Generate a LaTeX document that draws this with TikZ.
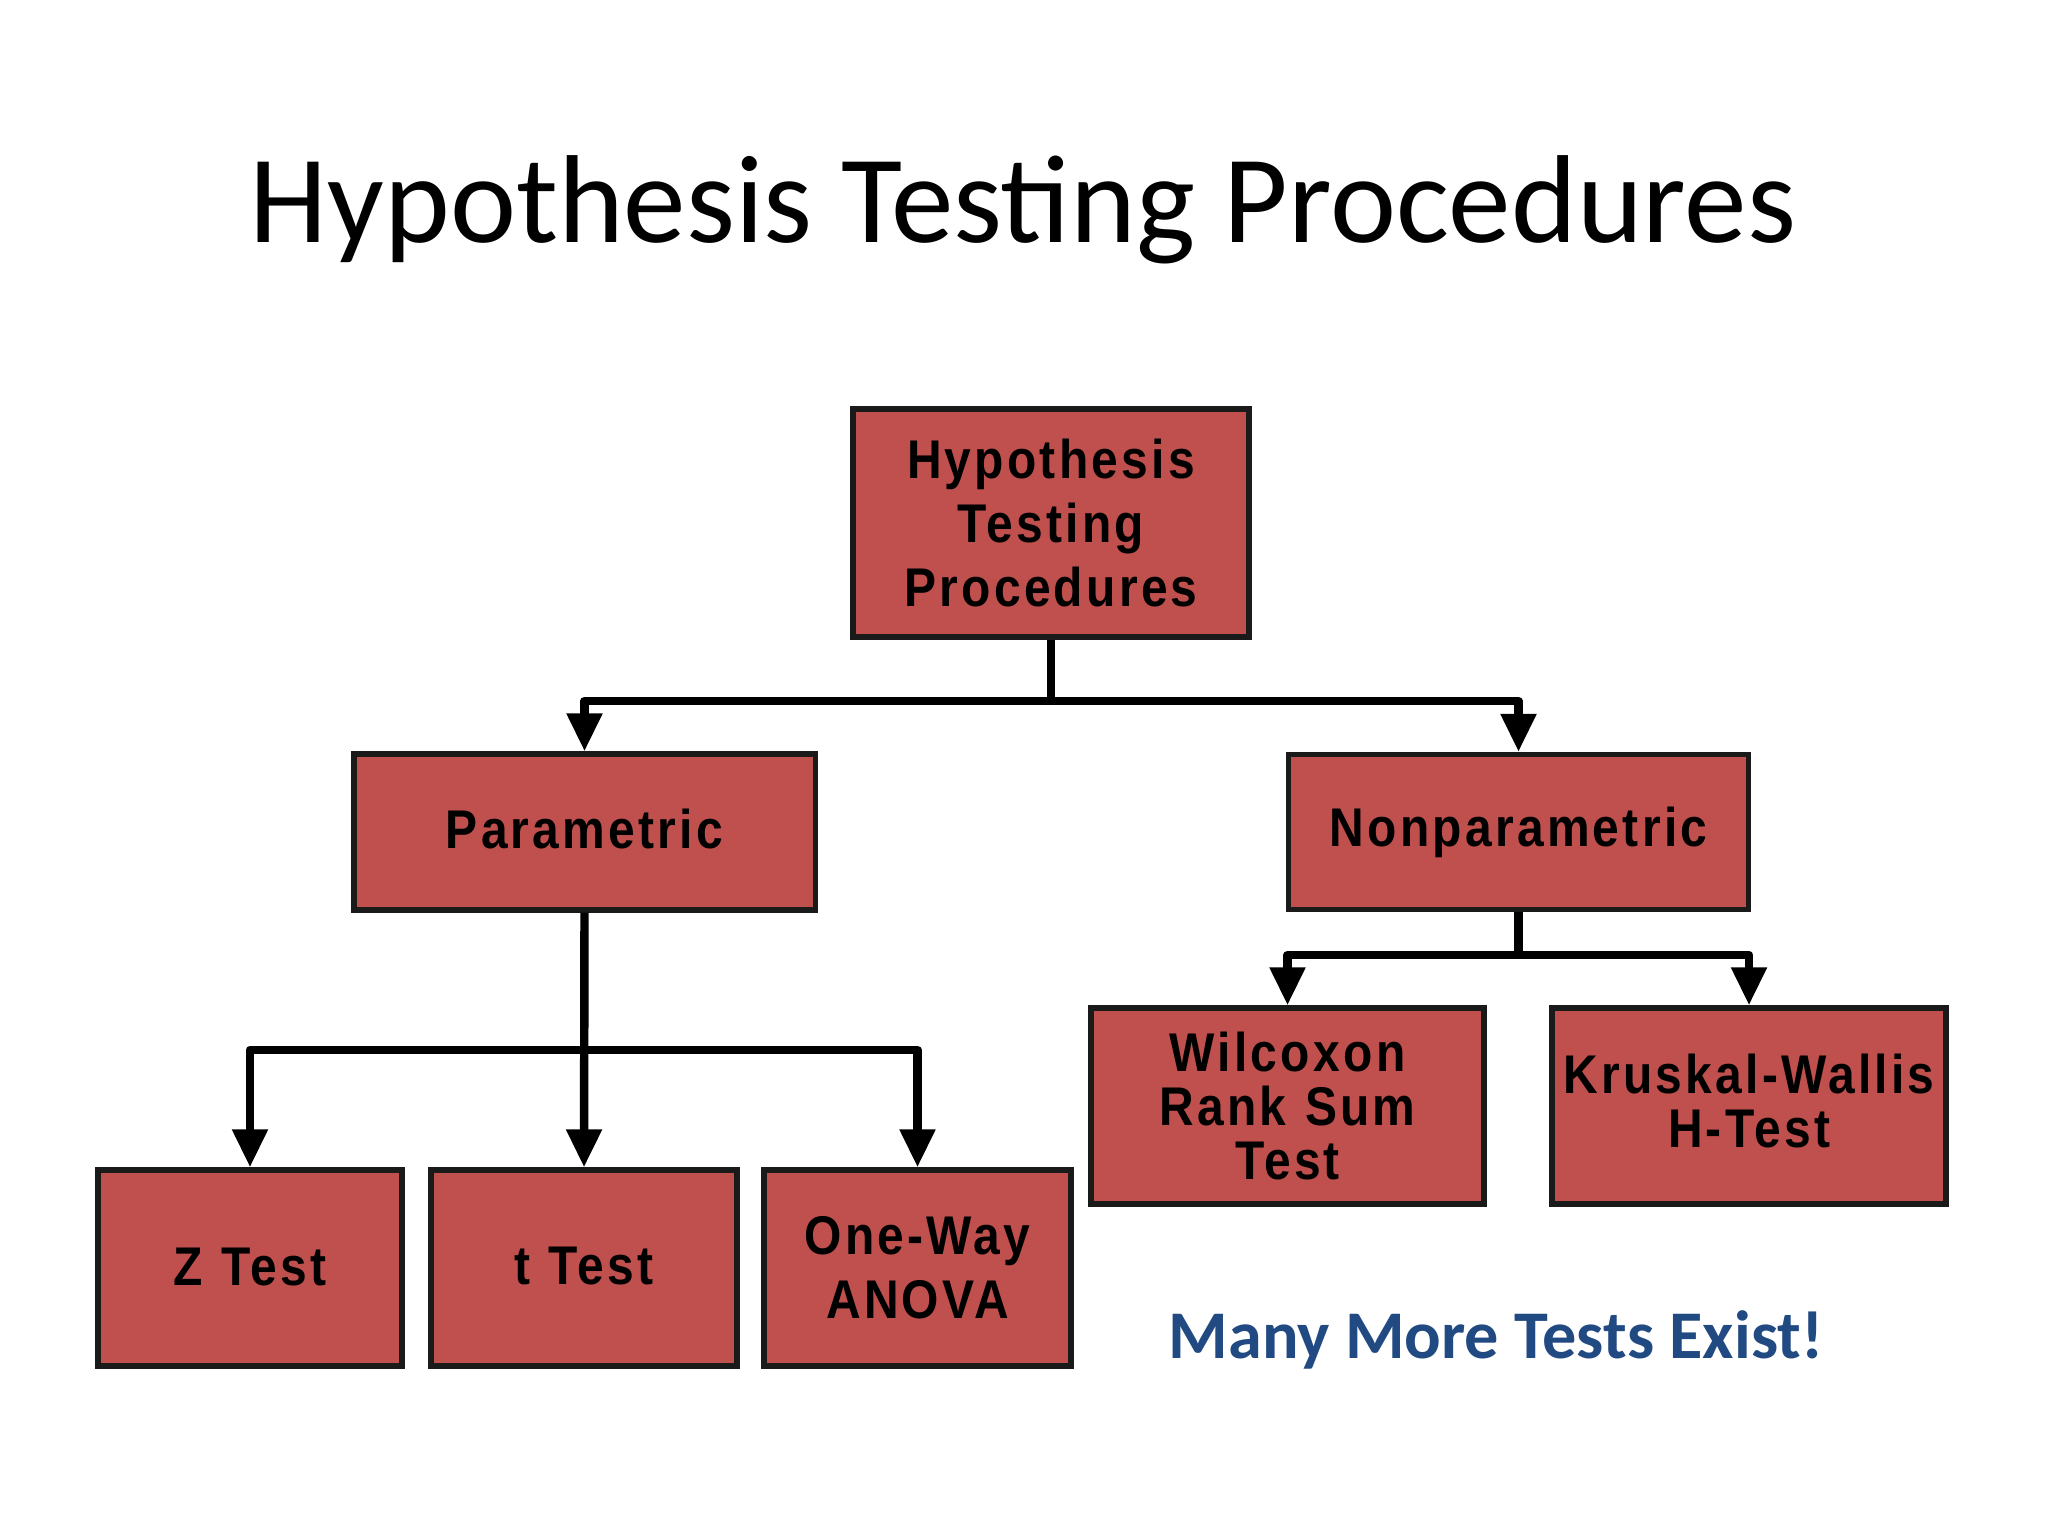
\documentclass[tikz,border=0pt]{standalone}
\usepackage{fontspec}
\setmainfont{Carlito}
\newfontfamily\boxfont[LetterSpace=6,FakeStretch=0.88,WordSpace=1.12]{Liberation Sans Bold}
\usetikzlibrary{arrows.meta}
\definecolor{boxred}{RGB}{192,80,77}
\definecolor{boxedge}{RGB}{26,26,26}
\definecolor{noteblue}{RGB}{33,74,130}
\tikzset{
  tbox/.style={draw=boxedge, fill=boxred, line width=1.5pt, inner sep=0pt,
    align=center, font=\boxfont\fontsize{15.5}{18.3}\selectfont},
  tight/.style={font=\boxfont\fontsize{15.5}{15.4}\selectfont},
  conn/.style={line width=2.4pt, line join=round, draw=black},
  arr/.style={conn, -{Triangle[width=0.34cm,length=0.38cm]}}
}
\begin{document}
\begin{tikzpicture}[x=0.01cm,y=-0.01cm]
\useasboundingbox[fill=white] (0,0) rectangle (2048,1536);
\node[anchor=base, font=\fontsize{35.6}{40}\selectfont] (title) at (1023,242) {Hypothesis Testing Procedures};
\node[tbox, minimum width=3.96cm, minimum height=2.28cm] (root) at (1051,523) {Hypothesis\\Testing\\Procedures};
\node[tbox, minimum width=4.61cm, minimum height=1.56cm, text depth=0.21em] (par) at (584.5,832) {Parametric};
\node[tbox, minimum width=4.60cm, minimum height=1.55cm] (nonpar) at (1518.5,832) {Nonparametric};
\node[tbox, minimum width=3.04cm, minimum height=1.96cm, text depth=0.1em] (z) at (250,1268) {Z Test};
\node[tbox, minimum width=3.06cm, minimum height=1.96cm, text depth=0.12em] (t) at (584,1268) {t Test};
\node[tbox, minimum width=3.07cm, minimum height=1.96cm] (anova) at (917.5,1268) {One-Way\\ANOVA};
\node[tbox, tight, minimum width=3.93cm, minimum height=1.96cm] (wil) at (1287.5,1106) {Wilcoxon\\Rank Sum\\Test};
\node[tbox, tight, minimum width=3.94cm, minimum height=1.96cm, text depth=0.3em] (kru) at (1749,1106) {Kruskal-Wallis\\H-Test};
\node[anchor=base, text=noteblue, font=\bfseries\fontsize{19.4}{22}\selectfont] (note) at (1496,1358) {Many More Tests Exist!};
\coordinate (b1) at (1051,701);
\coordinate (b2) at (584.5,1050);
\coordinate (b3) at (1518.5,955);
\draw[conn] (root.south) -- (b1);
\draw[arr] (b1) -| (par.north);
\draw[arr] (b1) -| (nonpar.north);
\draw[arr] (par.south) -- (t.north);
\draw[arr] (b2) -| (z.north);
\draw[arr] (b2) -| (anova.north);
\draw[conn] (nonpar.south) -- (b3);
\draw[arr] (b3) -| (wil.north);
\draw[arr] (b3) -| (kru.north);
\end{tikzpicture}
\end{document}
